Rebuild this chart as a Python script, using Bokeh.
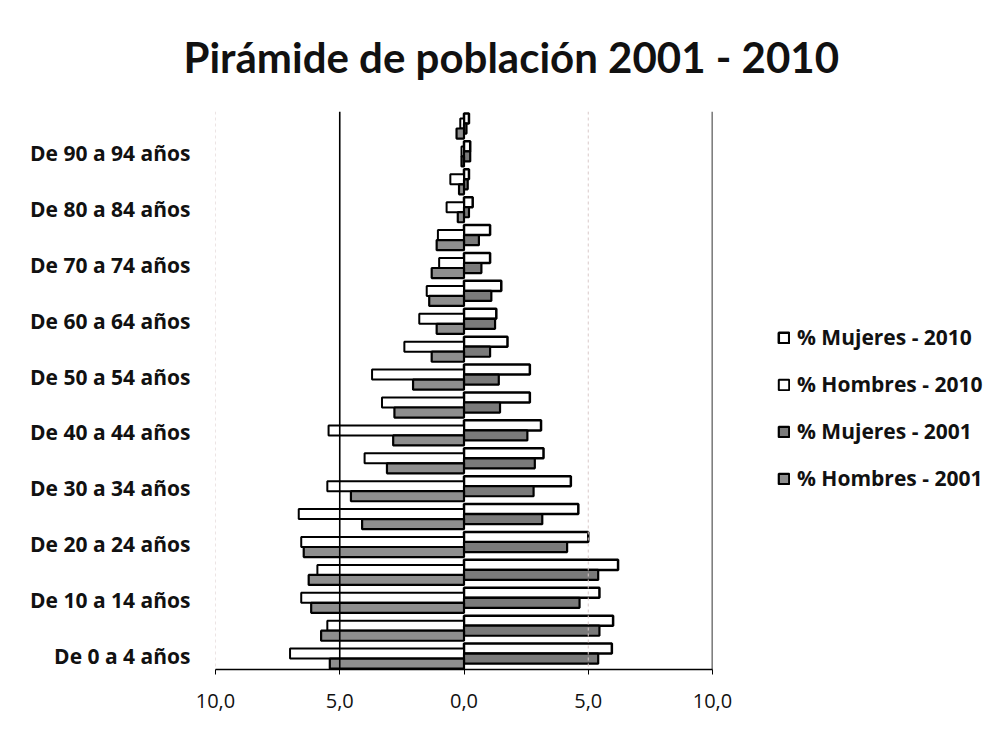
from bokeh.plotting import figure
from bokeh.models import ColumnDataSource, Range1d, FixedTicker, Span, Legend, LegendItem, Title
from bokeh.transform import dodge
from bokeh.embed import file_html
from bokeh.resources import INLINE

# ---- data (percent of population) ----
age_groups = ["De 0 a 4 años", "De 5 a 9 años", "De 10 a 14 años", "De 15 a 19 años",
              "De 20 a 24 años", "De 25 a 29 años", "De 30 a 34 años", "De 35 a 39 años",
              "De 40 a 44 años", "De 45 a 49 años", "De 50 a 54 años", "De 55 a 59 años",
              "De 60 a 64 años", "De 65 a 69 años", "De 70 a 74 años", "De 75 a 79 años",
              "De 80 a 84 años", "De 85 a 89 años", "De 90 a 94 años", "De 95 a 99 años"]
mujeres_2010 = [5.95, 6.0, 5.45, 6.2, 5.0, 4.6, 4.3, 3.2, 3.1, 2.65,
                2.65, 1.75, 1.3, 1.5, 1.05, 1.05, 0.35, 0.2, 0.25, 0.2]
hombres_2010 = [7.0, 5.5, 6.55, 5.9, 6.55, 6.65, 5.5, 4.0, 5.45, 3.3,
                3.7, 2.4, 1.8, 1.5, 1.0, 1.05, 0.7, 0.55, 0.1, 0.15]
mujeres_2001 = [5.4, 5.45, 4.65, 5.4, 4.15, 3.15, 2.8, 2.85, 2.55, 1.45,
                1.4, 1.05, 1.25, 1.1, 0.7, 0.6, 0.2, 0.15, 0.25, 0.1]
hombres_2001 = [5.4, 5.75, 6.15, 6.25, 6.45, 4.1, 4.55, 3.1, 2.85, 2.8,
                2.05, 1.3, 1.1, 1.4, 1.3, 1.1, 0.25, 0.2, 0.1, 0.3]
x_ticks = [-10, -5, 0, 5, 10]
x_tick_labels = ["10,0", "5,0", "0,0", "5,0", "10,0"]
title_text = "Pirámide de población 2001 - 2010"

idx = list(range(len(age_groups)))
src = ColumnDataSource(dict(
    y=idx,
    m10=mujeres_2010,
    h10=[-v for v in hombres_2010],
    m01=mujeres_2001,
    h01=[-v for v in hombres_2001],
    zero=[0] * len(idx),
))

p = figure(frame_width=497, frame_height=558, output_backend="svg", toolbar_location=None,
           x_range=Range1d(-10, 10), y_range=Range1d(-0.5, len(idx) - 0.5),
           min_border_left=215, min_border_right=290, min_border_top=110, min_border_bottom=57)
p.background_fill_color = "white"
p.border_fill_color = "white"
p.outline_line_color = None
p.xgrid.visible = False
p.ygrid.visible = False

# vertical lines
for loc, col, w, dash in [(-10, "#d9c9c9", 1, "3 3"), (-5, "black", 1.6, "solid"),
                          (5, "#d9c9c9", 1, "3 3"), (10, "black", 1.6, "solid")]:
    p.add_layout(Span(location=loc, dimension="height", line_color=col,
                      line_width=w, line_dash=dash))

bh = 0.36
r_m10 = p.hbar(y=dodge("y", 0.25), left="zero", right="m10", height=bh, source=src,
               fill_color="white", line_color="black", line_width=2.5)
r_h10 = p.hbar(y=dodge("y", 0.07), left="h10", right="zero", height=bh, source=src,
               fill_color="white", line_color="black", line_width=2.0)
r_m01 = p.hbar(y=dodge("y", -0.11), left="zero", right="m01", height=bh, source=src,
               fill_color="#7a7a7a", line_color="black", line_width=2.2)
r_h01 = p.hbar(y=dodge("y", -0.29), left="h01", right="zero", height=bh, source=src,
               fill_color="#8e8e8e", line_color="black", line_width=2.2)

# axes
xa = p.xaxis[0]
xa.ticker = FixedTicker(ticks=x_ticks)
xa.major_label_overrides = {t: l for t, l in zip(x_ticks, x_tick_labels)}
xa.axis_line_color = "black"
xa.axis_line_width = 1.6
xa.major_tick_line_color = "black"
xa.major_tick_out = 5
xa.major_tick_in = 0
xa.minor_tick_line_color = None
xa.major_label_standoff = 19
xa.major_label_text_font = "Open Sans"
xa.major_label_text_font_size = "20px"
xa.major_label_text_color = "#111111"

ya = p.yaxis[0]
ya.ticker = FixedTicker(ticks=idx[::2])
ya.major_label_overrides = {i: age_groups[i] for i in idx[::2]}
ya.axis_line_color = None
ya.major_tick_line_color = None
ya.minor_tick_line_color = None
ya.major_label_standoff = 19
ya.major_label_text_font = "Open Sans"
ya.major_label_text_font_style = "bold"
ya.major_label_text_font_size = "21px"
ya.major_label_text_color = "#111111"

# title
p.add_layout(Title(text=title_text, align="left", offset=-32, standoff=59,
                   text_font="Lato", text_font_style="bold",
                   text_font_size="42px", text_color="#111111"), "above")

legend = Legend(items=[
    LegendItem(label="% Mujeres - 2010", renderers=[r_m10]),
    LegendItem(label="% Hombres - 2010", renderers=[r_h10]),
    LegendItem(label="% Mujeres - 2001", renderers=[r_m01]),
    LegendItem(label="% Hombres - 2001", renderers=[r_h01]),
], location=(65, 177))
legend.glyph_width = 13
legend.glyph_height = 13
legend.label_height = 16
legend.spacing = 19
legend.label_standoff = 7
legend.padding = 0
legend.margin = 0
legend.border_line_color = None
legend.background_fill_alpha = 0
legend.label_text_font = "Open Sans"
legend.label_text_font_style = "bold"
legend.label_text_font_size = "21px"
legend.label_text_color = "#111111"
p.add_layout(legend, "right")

open("out.html", "w").write(file_html(p, INLINE))
